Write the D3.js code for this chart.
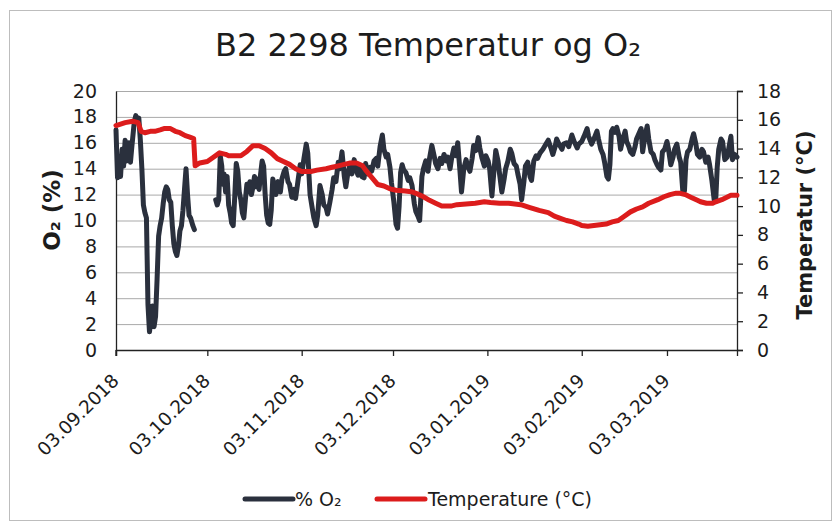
<!DOCTYPE html>
<html>
<head>
<meta charset="utf-8">
<script src="https://cdn.jsdelivr.net/npm/d3@7"></script>
<style>
  body { margin: 0; background: #fff; }
  svg { display: block; }
  text { font-family: "DejaVu Sans", sans-serif; fill: #1c1c1c; }
</style>
</head>
<body>
<svg id="chart" width="832" height="528"></svg>
<script>
// ---------- data ----------
const chartTitle = "B2 2298 Temperatur og O\u2082";
const leftAxisTitle = "O\u2082 (%)";
const rightAxisTitle = "Temperatur (\u00B0C)";
const o2Label = "% O\u2082";
const tempLabel = "Temperature (\u00B0C)";

const xStart = "03.09.2018 00:00";
const xEnd = "26.03.2019 00:00";
const xTickLabels = ["03.09.2018", "03.10.2018", "03.11.2018", "03.12.2018",
                     "03.01.2019", "03.02.2019", "03.03.2019"];
const leftTicks = [0, 2, 4, 6, 8, 10, 12, 14, 16, 18, 20];
const rightTicks = [0, 2, 4, 6, 8, 10, 12, 14, 16, 18];

const o2Time = [
  "03.09.2018 00:00","03.09.2018 12:00","04.09.2018 00:00","04.09.2018 12:00","05.09.2018 00:00",
  "05.09.2018 12:00","06.09.2018 00:00","06.09.2018 12:00","07.09.2018 06:00","07.09.2018 18:00",
  "08.09.2018 06:00","09.09.2018 00:00","09.09.2018 12:00","10.09.2018 00:00","10.09.2018 12:00",
  "11.09.2018 00:00","11.09.2018 12:00","12.09.2018 00:00","12.09.2018 12:00","13.09.2018 00:00",
  "13.09.2018 12:00","14.09.2018 00:00","14.09.2018 12:00","15.09.2018 00:00","15.09.2018 12:00",
  "16.09.2018 00:00","16.09.2018 12:00","17.09.2018 00:00","17.09.2018 12:00","18.09.2018 00:00",
  "18.09.2018 12:00","19.09.2018 00:00","19.09.2018 12:00","20.09.2018 00:00","20.09.2018 12:00",
  "21.09.2018 00:00","21.09.2018 12:00","22.09.2018 00:00","22.09.2018 12:00","23.09.2018 00:00",
  "23.09.2018 12:00","24.09.2018 00:00","24.09.2018 12:00","25.09.2018 00:00","25.09.2018 12:00",
  "26.09.2018 00:00","26.09.2018 12:00","27.09.2018 00:00","27.09.2018 12:00","28.09.2018 06:00",
  "28.09.2018 18:00","01.10.2018 00:00",
  "05.10.2018 18:00","06.10.2018 06:00","06.10.2018 18:00","07.10.2018 06:00","07.10.2018 18:00",
  "08.10.2018 00:00","08.10.2018 12:00","09.10.2018 00:00","09.10.2018 12:00","10.10.2018 00:00",
  "10.10.2018 12:00","11.10.2018 00:00","11.10.2018 12:00","12.10.2018 00:00","12.10.2018 12:00",
  "13.10.2018 00:00","13.10.2018 12:00","14.10.2018 00:00","14.10.2018 12:00","15.10.2018 00:00",
  "15.10.2018 12:00","16.10.2018 00:00","16.10.2018 12:00","17.10.2018 00:00","17.10.2018 12:00",
  "18.10.2018 00:00","18.10.2018 12:00","19.10.2018 00:00","19.10.2018 12:00","20.10.2018 00:00",
  "20.10.2018 12:00","21.10.2018 00:00","21.10.2018 12:00","22.10.2018 00:00","22.10.2018 12:00",
  "23.10.2018 00:00","23.10.2018 12:00","24.10.2018 00:00","24.10.2018 12:00","25.10.2018 00:00",
  "25.10.2018 12:00","26.10.2018 06:00","27.10.2018 00:00","27.10.2018 12:00","28.10.2018 06:00",
  "28.10.2018 18:00","29.10.2018 12:00","30.10.2018 00:00","30.10.2018 18:00","31.10.2018 12:00",
  "01.11.2018 00:00","01.11.2018 18:00","02.11.2018 12:00","03.11.2018 00:00","03.11.2018 18:00",
  "04.11.2018 12:00","05.11.2018 00:00","05.11.2018 18:00","06.11.2018 12:00","07.11.2018 00:00",
  "07.11.2018 18:00","08.11.2018 06:00","09.11.2018 00:00","09.11.2018 18:00","10.11.2018 06:00",
  "11.11.2018 00:00","11.11.2018 12:00","12.11.2018 06:00","13.11.2018 00:00","13.11.2018 12:00",
  "14.11.2018 06:00","15.11.2018 00:00","15.11.2018 12:00","16.11.2018 06:00","17.11.2018 00:00",
  "17.11.2018 12:00","18.11.2018 06:00","18.11.2018 18:00","19.11.2018 12:00","20.11.2018 06:00",
  "20.11.2018 18:00","21.11.2018 12:00","22.11.2018 00:00","22.11.2018 18:00","23.11.2018 12:00",
  "24.11.2018 00:00","24.11.2018 18:00","25.11.2018 12:00","26.11.2018 00:00","26.11.2018 18:00",
  "27.11.2018 12:00","28.11.2018 00:00","28.11.2018 18:00","29.11.2018 12:00","30.11.2018 00:00",
  "30.11.2018 18:00","01.12.2018 06:00","02.12.2018 00:00","02.12.2018 12:00","03.12.2018 06:00",
  "04.12.2018 00:00","04.12.2018 12:00","05.12.2018 00:00","05.12.2018 12:00","06.12.2018 00:00",
  "06.12.2018 12:00","07.12.2018 06:00","08.12.2018 00:00","08.12.2018 12:00","09.12.2018 06:00",
  "10.12.2018 00:00","10.12.2018 12:00","11.12.2018 06:00","11.12.2018 18:00","12.12.2018 12:00",
  "13.12.2018 00:00","13.12.2018 18:00","14.12.2018 12:00","15.12.2018 00:00","15.12.2018 18:00",
  "16.12.2018 12:00","17.12.2018 00:00","17.12.2018 18:00","18.12.2018 12:00","19.12.2018 00:00",
  "19.12.2018 18:00","20.12.2018 12:00","21.12.2018 00:00","21.12.2018 18:00","22.12.2018 06:00",
  "23.12.2018 00:00","23.12.2018 18:00","24.12.2018 06:00","25.12.2018 00:00","25.12.2018 12:00",
  "26.12.2018 06:00","27.12.2018 00:00","27.12.2018 12:00","28.12.2018 06:00","29.12.2018 00:00",
  "29.12.2018 12:00","30.12.2018 06:00","31.12.2018 00:00","31.12.2018 12:00","01.01.2019 06:00",
  "02.01.2019 00:00","02.01.2019 12:00","03.01.2019 06:00","03.01.2019 18:00","04.01.2019 12:00",
  "05.01.2019 00:00","05.01.2019 18:00","06.01.2019 12:00","07.01.2019 00:00","07.01.2019 18:00",
  "08.01.2019 12:00","09.01.2019 00:00","09.01.2019 18:00","10.01.2019 12:00","11.01.2019 00:00",
  "11.01.2019 18:00","12.01.2019 12:00","13.01.2019 00:00","13.01.2019 18:00","14.01.2019 06:00",
  "15.01.2019 00:00","15.01.2019 12:00","16.01.2019 06:00","17.01.2019 00:00","17.01.2019 12:00",
  "18.01.2019 06:00","19.01.2019 00:00","19.01.2019 12:00","20.01.2019 06:00","21.01.2019 06:00",
  "22.01.2019 06:00","23.01.2019 00:00","24.01.2019 00:00","24.01.2019 12:00","25.01.2019 06:00",
  "25.01.2019 18:00","26.01.2019 12:00","27.01.2019 12:00","28.01.2019 00:00","29.01.2019 00:00",
  "29.01.2019 18:00","30.01.2019 18:00","31.01.2019 12:00","01.02.2019 12:00","02.02.2019 00:00",
  "03.02.2019 00:00","03.02.2019 18:00","04.02.2019 18:00","05.02.2019 06:00","06.02.2019 06:00",
  "07.02.2019 00:00","08.02.2019 00:00","08.02.2019 12:00","09.02.2019 06:00","10.02.2019 00:00",
  "10.02.2019 12:00","11.02.2019 06:00","11.02.2019 18:00","12.02.2019 06:00","12.02.2019 18:00",
  "13.02.2019 06:00","14.02.2019 00:00","14.02.2019 12:00","15.02.2019 06:00","15.02.2019 18:00",
  "16.02.2019 12:00","17.02.2019 06:00","17.02.2019 18:00","18.02.2019 12:00","19.02.2019 00:00",
  "19.02.2019 18:00","20.02.2019 12:00","21.02.2019 00:00","21.02.2019 18:00","22.02.2019 12:00",
  "23.02.2019 00:00","23.02.2019 18:00","24.02.2019 12:00","25.02.2019 00:00","25.02.2019 18:00",
  "26.02.2019 12:00","27.02.2019 00:00","27.02.2019 18:00","28.02.2019 06:00","01.03.2019 00:00",
  "01.03.2019 12:00","02.03.2019 06:00","03.03.2019 00:00","03.03.2019 12:00","04.03.2019 06:00",
  "05.03.2019 00:00","05.03.2019 12:00","06.03.2019 06:00","07.03.2019 00:00","07.03.2019 12:00",
  "08.03.2019 06:00","08.03.2019 18:00","09.03.2019 06:00","09.03.2019 18:00","10.03.2019 12:00",
  "11.03.2019 06:00","11.03.2019 18:00","12.03.2019 12:00","13.03.2019 00:00","13.03.2019 18:00",
  "14.03.2019 12:00","15.03.2019 00:00","15.03.2019 18:00","16.03.2019 12:00","17.03.2019 00:00",
  "17.03.2019 18:00","18.03.2019 12:00","19.03.2019 00:00","19.03.2019 12:00","20.03.2019 00:00",
  "20.03.2019 18:00","21.03.2019 06:00","22.03.2019 00:00","22.03.2019 18:00","23.03.2019 06:00",
  "24.03.2019 00:00","24.03.2019 12:00","25.03.2019 06:00","26.03.2019 00:00"
];
const o2Values = [
  17.0, 13.3, 14.8, 13.4, 15.5,
  14.2, 16.2, 14.6, 16.0, 14.5,
  15.8, 17.6, 18.1, 17.7, 17.9,
  16.2, 14.0, 11.2, 10.6, 10.2,
  3.5, 1.4, 2.4, 3.4, 1.8,
  2.6, 5.5, 8.8, 9.6, 10.2,
  11.3, 12.2, 12.6, 12.4, 11.6,
  11.4, 9.6, 8.2, 7.6, 7.3,
  8.0, 9.2, 9.6, 10.8, 12.4,
  14.0, 12.0, 10.4, 10.2, 9.6,
  9.3, null,
  11.6, 11.2, 11.6, 15.0, 14.2,
  12.8, 13.6, 12.2, 13.4, 11.2,
  10.6, 9.8, 9.6, 11.8, 14.4,
  13.8, 12.2, 11.6, 10.6, 10.2,
  11.6, 12.8, 12.2, 13.0, 12.0,
  12.6, 13.4, 12.6, 13.2, 12.4,
  13.6, 14.6, 14.2, 12.0, 10.4,
  9.8, 9.7, 10.8, 13.2, 12.8,
  12.0, 13.0, 12.2, 13.2, 13.8,
  14.0, 13.0, 12.8, 11.8, 12.4,
  11.7, 13.0, 14.3, 13.6, 14.8,
  15.9, 15.2, 12.0, 10.9, 10.2,
  9.6, 10.4, 12.7, 12.0, 11.2,
  11.0, 10.5, 11.4, 12.4, 13.3,
  13.0, 14.5, 14.0, 15.3, 13.4,
  12.6, 13.8, 14.2, 13.6, 14.7,
  14.0, 13.5, 14.2, 13.4, 13.3,
  14.4, 13.6, 14.1, 13.8, 14.6,
  14.8, 14.2, 15.7, 16.6, 15.5,
  14.9, 15.1, 14.1, 12.9, 11.5,
  9.7, 9.4, 11.1, 13.7, 14.3,
  13.9, 13.7, 13.1, 13.3, 12.7,
  11.3, 10.7, 10.3, 10.0, 13.4,
  14.0, 14.6, 13.8, 14.8, 15.8,
  15.0, 14.4, 14.0, 14.8, 14.4,
  15.1, 14.6, 14.9, 14.0, 14.8,
  15.6, 15.0, 16.0, 13.8, 12.2,
  14.0, 14.7, 14.2, 13.8, 14.8,
  15.8, 15.4, 16.4, 15.6, 14.8,
  14.2, 15.0, 14.6, 14.0, 11.9,
  13.4, 15.4, 14.6, 13.6, 12.2,
  13.2, 14.0, 14.6, 15.5, 15.2,
  14.4, 14.2, 13.6, 12.8, 11.6,
  13.0, 14.2, 14.5, 13.4, 13.1,
  14.6, 15.0, 14.8, 15.2, 15.5,
  15.9, 16.2, 15.5, 15.1, 15.7,
  16.3, 15.9, 15.5, 15.9, 16.0,
  15.7, 16.6, 16.1, 15.6, 15.9,
  16.1, 16.5, 17.1, 16.5, 15.9,
  16.3, 16.9, 16.3, 15.5, 15.1,
  14.5, 13.4, 13.2, 14.3, 16.9,
  17.1, 16.8, 17.2, 16.5, 15.5,
  16.3, 16.9, 16.1, 15.7, 15.3,
  15.1, 15.7, 16.3, 16.7, 17.1,
  15.3, 16.5, 17.3, 16.3, 15.3,
  15.1, 14.7, 14.3, 14.1, 13.9,
  15.3, 15.5, 16.1, 15.5, 14.3,
  14.9, 15.5, 15.9, 14.9, 14.5,
  12.1, 12.3, 14.7, 15.3, 15.5,
  16.3, 16.7, 15.9, 15.1, 14.9,
  15.5, 15.3, 14.5, 14.9, 14.3,
  13.1, 11.6, 11.5, 14.1, 15.5,
  16.3, 16.1, 14.7, 14.9, 15.5,
  16.5, 14.7, 15.1, 14.9
];

const tempTime = [
  "03.09.2018 00:00","06.09.2018 00:00","08.09.2018 12:00","10.09.2018 06:00","11.09.2018 06:00",
  "12.09.2018 12:00","14.09.2018 06:00","15.09.2018 18:00","17.09.2018 12:00","19.09.2018 00:00",
  "20.09.2018 18:00","22.09.2018 12:00","24.09.2018 00:00","25.09.2018 18:00","27.09.2018 06:00",
  "28.09.2018 12:00","29.09.2018 00:00","30.09.2018 12:00","03.10.2018 00:00","05.10.2018 00:00",
  "07.10.2018 00:00","09.10.2018 00:00","10.10.2018 00:00","12.10.2018 00:00","14.10.2018 00:00",
  "16.10.2018 00:00","18.10.2018 00:00","20.10.2018 00:00","22.10.2018 00:00","24.10.2018 00:00",
  "26.10.2018 00:00","28.10.2018 00:00","30.10.2018 00:00","01.11.2018 00:00","03.11.2018 00:00",
  "06.11.2018 00:00","08.11.2018 00:00","11.11.2018 00:00","13.11.2018 00:00","15.11.2018 00:00",
  "17.11.2018 00:00","19.11.2018 00:00","21.11.2018 00:00","23.11.2018 00:00","24.11.2018 00:00",
  "26.11.2018 00:00","28.11.2018 00:00","30.11.2018 00:00","02.12.2018 00:00","04.12.2018 00:00",
  "07.12.2018 00:00","09.12.2018 00:00","11.12.2018 00:00","13.12.2018 00:00","15.12.2018 00:00",
  "17.12.2018 00:00","19.12.2018 00:00","22.12.2018 00:00","24.12.2018 00:00","27.12.2018 00:00",
  "30.12.2018 00:00","02.01.2019 00:00","04.01.2019 00:00","07.01.2019 00:00","10.01.2019 00:00",
  "14.01.2019 00:00","17.01.2019 00:00","20.01.2019 00:00","23.01.2019 00:00","25.01.2019 00:00",
  "27.01.2019 00:00","29.01.2019 00:00","31.01.2019 00:00","02.02.2019 00:00","03.02.2019 00:00",
  "05.02.2019 00:00","07.02.2019 00:00","09.02.2019 00:00","11.02.2019 00:00","13.02.2019 00:00",
  "15.02.2019 00:00","17.02.2019 00:00","19.02.2019 00:00","21.02.2019 00:00","23.02.2019 00:00",
  "25.02.2019 00:00","28.02.2019 00:00","02.03.2019 00:00","04.03.2019 00:00","06.03.2019 00:00",
  "07.03.2019 00:00","09.03.2019 00:00","11.03.2019 00:00","13.03.2019 00:00","14.03.2019 00:00",
  "16.03.2019 00:00","18.03.2019 00:00","19.03.2019 00:00","21.03.2019 00:00","23.03.2019 00:00",
  "24.03.2019 00:00","26.03.2019 00:00"
];
const tempValues = [
  15.6, 15.8, 15.9, 15.8, 15.2,
  15.1, 15.2, 15.2, 15.3, 15.4,
  15.4, 15.2, 15.1, 14.9, 14.8,
  14.7, 12.8, 13.0, 13.1, 13.4,
  13.7, 13.6, 13.5, 13.5, 13.5,
  13.8, 14.2, 14.2, 14.0, 13.7,
  13.3, 13.1, 12.9, 12.6, 12.4,
  12.4, 12.5, 12.6, 12.7, 12.8,
  12.9, 13.0, 13.0, 12.8, 12.5,
  12.0, 11.5, 11.4, 11.2, 11.1,
  11.05, 11.0, 10.85, 10.65, 10.4,
  10.2, 10.0, 10.0, 10.1, 10.15,
  10.2, 10.3, 10.25, 10.2, 10.2,
  10.1, 9.9, 9.7, 9.55, 9.3,
  9.15, 9.0, 8.9, 8.75, 8.65,
  8.6, 8.65, 8.7, 8.75, 8.9,
  9.0, 9.3, 9.6, 9.8, 9.95,
  10.2, 10.45, 10.65, 10.8, 10.9,
  10.9, 10.8, 10.6, 10.4, 10.3,
  10.2, 10.2, 10.3, 10.45, 10.65,
  10.75, 10.75
];

// ---------- layout ----------
const svg = d3.select("#chart");
const W = 832, H = 528;
const plot = { left: 116, right: 737, top: 91, bottom: 350 };
const parse = d3.timeParse("%d.%m.%Y %H:%M");
const parseDay = d3.timeParse("%d.%m.%Y");

const x = d3.scaleTime().domain([parse(xStart), parse(xEnd)]).range([plot.left, plot.right]);
const yL = d3.scaleLinear().domain([0, 20]).range([plot.bottom, plot.top]);
const yR = d3.scaleLinear().domain([0, 18]).range([plot.bottom, plot.top]);

// background + outer border
svg.append("rect").attr("width", W).attr("height", H).attr("fill", "#fff");
svg.append("rect").attr("x", 9.5).attr("y", 10.5).attr("width", 822).attr("height", 510)
  .attr("fill", "none").attr("stroke", "#bdbdbd").attr("stroke-width", 1);

// title
svg.append("text").attr("x", 428).attr("y", 56).attr("text-anchor", "middle")
  .style("font-size", "32px").text(chartTitle);

// gridlines
svg.append("g").selectAll("line").data(leftTicks.filter(d => d > 0)).join("line")
  .attr("x1", plot.left).attr("x2", plot.right)
  .attr("y1", d => yL(d) + 0.5).attr("y2", d => yL(d) + 0.5)
  .attr("stroke", "#a9a9a9").attr("stroke-width", 1);

// left axis
const gL = svg.append("g").attr("transform", `translate(${plot.left},0)`)
  .call(d3.axisLeft(yL).tickValues(leftTicks).tickSize(0).tickPadding(19));
gL.select(".domain").attr("stroke", "#222").attr("stroke-width", 1.3);
gL.selectAll("text").style("font-size", "19px").style("font-family", "DejaVu Sans").attr("fill", "#1c1c1c");

// right axis
const gR = svg.append("g").attr("transform", `translate(${plot.right},0)`)
  .call(d3.axisRight(yR).tickValues(rightTicks).tickSize(6).tickPadding(14));
gR.select(".domain").attr("stroke", "#222").attr("stroke-width", 1.3);
gR.selectAll(".tick line").attr("stroke", "#222").attr("stroke-width", 1.3);
gR.selectAll("text").style("font-size", "19px").style("font-family", "DejaVu Sans").attr("fill", "#1c1c1c");

// bottom axis
const tickDates = xTickLabels.map(parseDay);
const gB = svg.append("g").attr("transform", `translate(0,${plot.bottom})`)
  .call(d3.axisBottom(x).tickValues(tickDates).tickSize(6).tickFormat(""));
gB.select(".domain").attr("stroke", "#222").attr("stroke-width", 1.3);
gB.selectAll(".tick line").attr("stroke", "#222").attr("stroke-width", 1.3);
svg.append("g").selectAll("text").data(xTickLabels).join("text")
  .attr("transform", d => `translate(${x(parseDay(d)) + 4},${plot.bottom + 32}) rotate(-45)`)
  .attr("text-anchor", "end").style("font-size", "18.5px").text(d => d);
svg.append("line").attr("x1", plot.left).attr("x2", plot.left)
  .attr("y1", plot.bottom).attr("y2", plot.bottom + 6).attr("stroke", "#222").attr("stroke-width", 1.3);

// axis titles
svg.append("text").attr("transform", "translate(60,210) rotate(-90)")
  .attr("text-anchor", "middle").style("font-size", "23px").style("font-weight", "bold")
  .text(leftAxisTitle);
svg.append("text").attr("transform", "translate(812,225) rotate(-90)")
  .attr("text-anchor", "middle").style("font-size", "21px").style("font-weight", "bold")
  .text(rightAxisTitle);

// series
const o2Data = o2Time.map((t, i) => ({ t: parse(t), v: o2Values[i] }));
const tempData = tempTime.map((t, i) => ({ t: parse(t), v: tempValues[i] }));

const o2Line = d3.line().defined(d => d.v != null).x(d => x(d.t)).y(d => yL(d.v));
const tLine = d3.line().x(d => x(d.t)).y(d => yR(d.v));

svg.append("path").datum(o2Data).attr("d", o2Line)
  .attr("fill", "none").attr("stroke", "#2a303d").attr("stroke-width", 5)
  .attr("stroke-linejoin", "round").attr("stroke-linecap", "round");
svg.append("path").datum(tempData).attr("d", tLine)
  .attr("fill", "none").attr("stroke", "#dc1c1c").attr("stroke-width", 5)
  .attr("stroke-linejoin", "round").attr("stroke-linecap", "round");

// legend
const legend = [
  { label: o2Label, color: "#2a303d", x: 245, tx: 295 },
  { label: tempLabel, color: "#dc1c1c", x: 377, tx: 428 }
];
const lg = svg.append("g");
lg.selectAll("line").data(legend).join("line")
  .attr("x1", d => d.x).attr("x2", d => d.x + 48)
  .attr("y1", 499).attr("y2", 499)
  .attr("stroke", d => d.color).attr("stroke-width", 5).attr("stroke-linecap", "round");
lg.selectAll("text").data(legend).join("text")
  .attr("x", d => d.tx).attr("y", 506).style("font-size", "19px").text(d => d.label);
</script>
</body>
</html>
